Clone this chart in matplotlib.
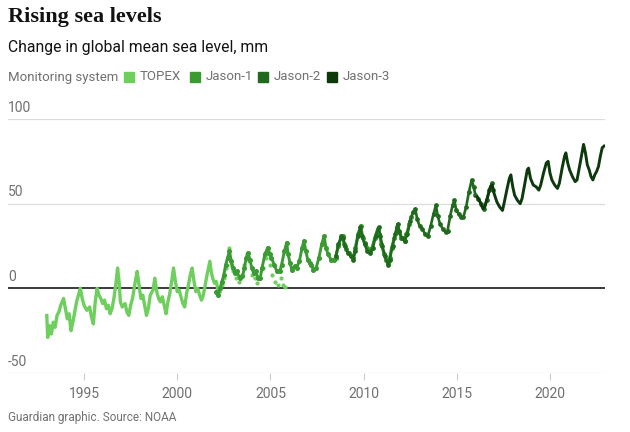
import matplotlib

matplotlib.use("Agg")
import matplotlib.pyplot as plt
from matplotlib.patches import Rectangle

# readings, mm vs decimal year
topex_years = [
    1993.0, 1993.05, 1993.15, 1993.25, 1993.35, 1993.45, 1993.55, 1993.65, 1993.75, 1993.9,
    1994.0, 1994.1, 1994.2, 1994.3, 1994.4, 1994.5, 1994.6, 1994.7, 1994.8, 1994.9,
    1995.0, 1995.15, 1995.3, 1995.4, 1995.5, 1995.6, 1995.7, 1995.8, 1995.9, 1996.0,
    1996.1, 1996.2, 1996.3, 1996.4, 1996.5, 1996.6, 1996.7, 1996.8, 1996.88, 1996.95,
    1997.05, 1997.2, 1997.3, 1997.4, 1997.5, 1997.6, 1997.75, 1997.85, 1997.95, 1998.05,
    1998.15, 1998.25, 1998.35, 1998.45, 1998.55, 1998.7, 1998.8, 1998.9, 1999.0, 1999.1,
    1999.2, 1999.3, 1999.4, 1999.5, 1999.6, 1999.7, 1999.8, 1999.9, 2000.0, 2000.1,
    2000.2, 2000.3, 2000.4, 2000.5, 2000.6, 2000.7, 2000.8, 2000.9, 2001.0, 2001.1,
    2001.2, 2001.3, 2001.4, 2001.5, 2001.6, 2001.75, 2001.82, 2001.9, 2002.0, 2002.1,
    2002.2, 2002.3,
]
topex_mm = [
    -16, -29, -22, -27, -20, -23, -16, -14, -10, -6,
    -12, -18, -15, -25, -20, -14, -8, -4, 0, -6,
    -10, -13, -11, -17, -21, -8, 0, -4, -6, -9,
    -7, -12, -10, -15, -12, -6, 2, 12, 4, -8,
    -11, -9, -14, -16, -10, -6, 4, 10, 2, -6,
    -4, -10, -16, -12, -4, -1, 6, -2, -6, -8,
    -5, -10, -15, -8, -3, 4, 12, 4, -2, -1,
    -5, -9, -11, -3, 2, 8, 12, 4, -2, 0,
    -4, -7, -4, 2, 8, 16, 10, 6, 3, 4,
    -2, -2,
]

# TOPEX tandem phase, drawn as loose dots
topex_tandem_years = [
    2002.4, 2002.5, 2002.6, 2002.7, 2002.8, 2002.9, 2003.0, 2003.15, 2003.3, 2003.45,
    2003.6, 2003.75, 2003.85, 2004.0, 2004.15, 2004.3, 2004.45, 2004.6, 2004.75, 2004.85,
    2004.95, 2005.1, 2005.25, 2005.4, 2005.55, 2005.7, 2005.8,
]
topex_tandem_mm = [
    2, 6, 12, 18, 24, 14, 10, 6, 4, 8,
    14, 20, 16, 8, 6, 3, 6, 12, 18, 22,
    14, 8, 4, 2, 6, 2, 1,
]

jason1_years = [
    2002.1, 2002.2, 2002.3, 2002.4, 2002.5, 2002.6, 2002.7, 2002.8, 2002.9, 2003.0,
    2003.1, 2003.2, 2003.35, 2003.5, 2003.6, 2003.7, 2003.8, 2003.9, 2004.0, 2004.1,
    2004.2, 2004.35, 2004.45, 2004.55, 2004.7, 2004.85, 2004.95, 2005.05, 2005.2, 2005.35,
    2005.5, 2005.6, 2005.75, 2005.87, 2005.95, 2006.05, 2006.15, 2006.3, 2006.4, 2006.55,
    2006.7, 2006.8, 2006.9, 2007.0, 2007.1, 2007.2, 2007.3, 2007.45, 2007.6, 2007.75,
    2007.88, 2007.98, 2008.1, 2008.25, 2008.4, 2008.5, 2008.65, 2008.8, 2008.88, 2008.95,
    2009.05, 2009.2, 2009.35, 2009.45, 2009.55, 2009.7, 2009.85, 2009.95, 2010.05, 2010.2,
    2010.35, 2010.45, 2010.6, 2010.75, 2010.85, 2010.95, 2011.1, 2011.2, 2011.3, 2011.4,
    2011.5, 2011.65, 2011.8, 2011.9, 2012.0, 2012.1, 2012.2, 2012.3, 2012.45, 2012.55,
]
jason1_mm = [
    -2, -4, 0, 4, 8, 14, 18, 22, 16, 12,
    9, 10, 6, 7, 12, 18, 21, 17, 12, 9,
    10, 6, 6, 12, 20, 24, 20, 18, 14, 10,
    10, 14, 22, 27, 20, 15, 11, 13, 12, 16,
    24, 28, 22, 17, 15, 14, 11, 12, 18, 26,
    31, 24, 20, 17, 17, 18, 25, 30, 31, 26,
    23, 21, 19, 18, 24, 32, 37, 30, 27, 24,
    22, 24, 30, 35, 32, 26, 20, 17, 15, 18,
    24, 30, 36, 34, 30, 30, 28, 32, 38, 42,
]

jason2_years = [
    2008.5, 2008.65, 2008.8, 2008.9, 2009.0, 2009.15, 2009.3, 2009.45, 2009.55, 2009.7,
    2009.82, 2009.92, 2010.05, 2010.2, 2010.35, 2010.5, 2010.65, 2010.8, 2010.9, 2011.0,
    2011.15, 2011.3, 2011.4, 2011.55, 2011.7, 2011.82, 2011.92, 2012.05, 2012.2, 2012.35,
    2012.5, 2012.65, 2012.77, 2012.87, 2013.0, 2013.15, 2013.3, 2013.45, 2013.6, 2013.75,
    2013.88, 2013.97, 2014.1, 2014.25, 2014.4, 2014.5, 2014.65, 2014.77, 2014.87, 2014.97,
    2015.1, 2015.25, 2015.35, 2015.5, 2015.65, 2015.8, 2015.9, 2016.0, 2016.15, 2016.3,
    2016.45, 2016.6, 2016.75, 2016.87, 2016.95,
]
jason2_mm = [
    19, 26, 31, 30, 25, 21, 19, 17, 22, 31,
    36, 31, 26, 22, 21, 24, 31, 36, 31, 25,
    19, 14, 17, 25, 32, 38, 33, 30, 28, 32,
    40, 45, 47, 41, 37, 35, 32, 31, 37, 44,
    49, 43, 38, 35, 33, 34, 43, 49, 52, 46,
    44, 42, 42, 48, 57, 64, 60, 55, 53, 50,
    47, 52, 58, 62, 58,
]

jason3_years = [
    2016.1, 2016.25, 2016.4, 2016.5, 2016.65, 2016.8, 2016.9, 2017.0, 2017.15, 2017.3,
    2017.45, 2017.55, 2017.7, 2017.82, 2017.9, 2018.0, 2018.1, 2018.25, 2018.4, 2018.5,
    2018.65, 2018.78, 2018.85, 2018.95, 2019.1, 2019.25, 2019.4, 2019.5, 2019.65, 2019.8,
    2019.9, 2020.0, 2020.1, 2020.25, 2020.4, 2020.5, 2020.65, 2020.78, 2020.85, 2020.95,
    2021.05, 2021.2, 2021.35, 2021.45, 2021.55, 2021.7, 2021.8, 2021.9, 2022.0, 2022.1,
    2022.2, 2022.3, 2022.4, 2022.5, 2022.6, 2022.7, 2022.8, 2022.9,
]
jason3_mm = [
    54, 51, 47, 48, 54, 60, 61, 56, 51, 48,
    46, 51, 59, 65, 67, 60, 55, 52, 50, 53,
    62, 70, 71, 65, 61, 60, 58, 61, 68, 74,
    75, 68, 64, 61, 59, 62, 71, 78, 80, 74,
    70, 66, 63, 64, 70, 79, 85, 80, 73, 70,
    66, 64, 67, 69, 72, 78, 83, 84,
]

series_names = ["TOPEX", "Jason-1", "Jason-2", "Jason-3"]
series_colors = ["#6fcf5e", "#3b9b33", "#1f6a1c", "#0d390d"]

y_ticks = [-50, 0, 50, 100]
x_ticks = [1995, 2000, 2005, 2010, 2015, 2020]

GREY = "#707070"
SANS = ["Roboto", "DejaVu Sans"]

fig = plt.figure(figsize=(6.3, 4.32), dpi=100)
ax = fig.add_axes([8 / 630, 1 - 373 / 432, 597 / 630, 254 / 432])
ax.set_xlim(1990.92, 2022.95)
ax.set_ylim(-50, 100)
for s in ax.spines.values():
    s.set_visible(False)

for v in y_ticks:
    if v == 0:
        ax.axhline(v, color="#2b2b2b", lw=1.3, zorder=1)
    else:
        ax.axhline(v, color="#dcdcdc", lw=0.9, zorder=0)
    ax.text(0, v + 2.6, f"{v}", transform=ax.get_yaxis_transform(),
            ha="left", va="bottom", fontsize=10, color=GREY, family=SANS)
ax.set_yticks([])

ax.set_xticks(x_ticks)
ax.set_xticklabels([str(t) for t in x_ticks], fontsize=10, color=GREY, family=SANS)
ax.tick_params(axis="x", length=5, width=0.8, color="#cccccc", pad=5)

ax.plot(topex_years, topex_mm, color=series_colors[0], lw=2.4, zorder=3)
ax.scatter(topex_tandem_years, topex_tandem_mm, s=9, color=series_colors[0], lw=0, zorder=3)
ax.plot(jason1_years, jason1_mm, color=series_colors[1], lw=2.1, marker="o", ms=2.6, zorder=4)
ax.plot(jason2_years, jason2_mm, color=series_colors[2], lw=1.9, marker="o", ms=2.4, zorder=5)
ax.plot(jason3_years, jason3_mm, color=series_colors[3], lw=2.1, zorder=6)

fig.text(8 / 630, 1 - 7 / 432, "Rising sea levels", ha="left", va="top",
         fontsize=16, fontweight="bold", family=["Liberation Serif", "DejaVu Serif"], color="#121212")
fig.text(8 / 630, 1 - 40 / 432, "Change in global mean sea level, mm", ha="left", va="top",
         fontsize=11.3, family=SANS, color="#121212")

# legend row
leg_y = 1 - 77 / 432
fig.text(8 / 630, leg_y, "Monitoring system", ha="left", va="center", fontsize=9.5, color=GREY, family=SANS)
sq_x = [124, 190, 258, 327]
for x, name, col in zip(sq_x, series_names, series_colors):
    fig.patches.append(Rectangle((x / 630, leg_y - 5 / 432), 10 / 630, 10 / 432,
                                 transform=fig.transFigure, color=col))
    fig.text((x + 16) / 630, leg_y, name, ha="left", va="center", fontsize=9.5, color=GREY, family=SANS)

fig.text(8 / 630, 1 - 418 / 432, "Guardian graphic. Source: NOAA", ha="left", va="center",
         fontsize=8.5, color=GREY, family=SANS)

fig.savefig("out.png", dpi=100)
